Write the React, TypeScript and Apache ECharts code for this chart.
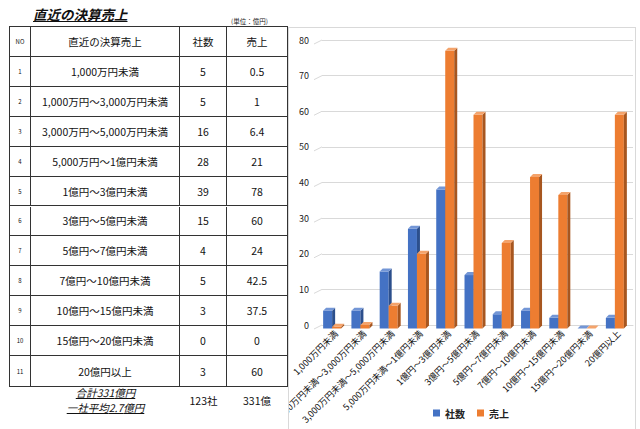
import React, { useEffect, useRef } from "react";
import * as echarts from "echarts";

// ---- data ----
const tableCategories = [
  "1,000万円未満",
  "1,000万円～3,000万円未満",
  "3,000万円～5,000万円未満",
  "5,000万円～1億円未満",
  "1億円～3億円未満",
  "3億円～5億円未満",
  "5億円～7億円未満",
  "7億円～10億円未満",
  "10億円～15億円未満",
  "15億円～20億円未満",
  "20億円以上",
];
const chartCategories = [
  "1,000万円未満",
  "1,000万円未満～3,000万円未満",
  "3,000万円未満～5,000万円未満",
  "5,000万円未満～1億円未満",
  "1億円～3億円未満",
  "3億円～5億円未満",
  "5億円～7億円未満",
  "7億円～10億円未満",
  "10億円～15億円未満",
  "15億円～20億円未満",
  "20億円以上",
];
const companies = [5, 5, 16, 28, 39, 15, 4, 5, 3, 0, 3];
const sales = [0.5, 1, 6.4, 21, 78, 60, 24, 42.5, 37.5, 0, 60];
const yTicks = [0, 10, 20, 30, 40, 50, 60, 70, 80];
const seriesNames = ["社数", "売上"];

const FONT = '"Noto Sans CJK JP", "Noto Sans", sans-serif';

const colW = [21, 149, 47, 60];
const rowH = 359 / 12;

function Table() {
  const header = ["NO", "直近の決算売上", "社数", "売上"];
  const rows = tableCategories.map((c, i) => [String(i + 1), c, String(companies[i]), String(sales[i])]);
  const all = [header, ...rows];
  const lefts = colW.map((_, i) => colW.slice(0, i).reduce((a, b) => a + b, 0));
  const cells: any[] = [];
  all.forEach((r, ri) => {
    r.forEach((txt, ci) => {
      cells.push(
        <div
          key={ri + "-" + ci}
          style={{
            position: "absolute",
            left: lefts[ci],
            top: ri * rowH,
            width: colW[ci],
            height: rowH,
            boxSizing: "border-box",
            borderRight: ci < 3 ? "1px solid #333" : "none",
            borderBottom: ri < 11 ? "1px solid #333" : "none",
            display: "flex",
            alignItems: "center",
            justifyContent: "center",
            fontSize: ci === 0 ? 6 : 10.5,
            color: "#111",
            whiteSpace: "nowrap",
          }}
        >
          {txt}
        </div>
      );
    });
  });
  return (
    <div
      style={{
        position: "absolute",
        left: 10,
        top: 27,
        width: 277,
        height: 359,
        boxSizing: "border-box",
        outline: "1px solid #333",
      }}
    >
      {cells}
    </div>
  );
}

export default function App() {
  const ref = useRef<HTMLDivElement>(null);

  useEffect(() => {
    if (!ref.current) return;
    const chart = echarts.init(ref.current, undefined, { renderer: "svg" });
    const styles = [
      { off: -13, front: "#4472C4", top: "#7396D6", side: "#2C4F8C" },
      { off: -4, front: "#ED7D31", top: "#F4A36B", side: "#A7561F" },
    ];
    const W = 9;
    const D = 3;
    const DY = 3.5;
    const makeBar = (idx: number) => (params: any, api: any) => {
      const s = styles[idx];
      const c = api.coord([api.value(0), api.value(1)]);
      const b = api.coord([api.value(0), 0]);
      const x0 = c[0] + s.off;
      const yt = c[1] + DY;
      const yb = b[1] + DY;
      return {
        type: "group",
        children: [
          {
            type: "rect",
            shape: { x: x0, y: yt, width: W, height: Math.max(0, yb - yt) },
            style: { fill: s.front },
          },
          {
            type: "polygon",
            shape: { points: [[x0 + W, yt], [x0 + W + D, yt - 3], [x0 + W + D, yb - 3], [x0 + W, yb]] },
            style: { fill: s.side },
          },
          {
            type: "polygon",
            shape: { points: [[x0, yt], [x0 + W, yt], [x0 + W + D, yt - 3], [x0 + D, yt - 3]] },
            style: { fill: s.top },
          },
        ],
      };
    };
    chart.setOption({
      animation: false,
      textStyle: { fontFamily: FONT },
      grid: { left: 34, right: 4, top: 13, bottom: 104, containLabel: false, outerBoundsMode: "none" },
      legend: {
        data: seriesNames,
        bottom: 6,
        left: 140,
        itemWidth: 7,
        itemHeight: 7,
        itemGap: 12,
        icon: "rect",
        textStyle: { fontSize: 10, color: "#222", fontWeight: "bold", fontFamily: FONT },
      },
      xAxis: {
        type: "category",
        data: chartCategories,
        boundaryGap: true,
        axisLine: { show: true, lineStyle: { color: "#d9d9d9" } },
        axisTick: { show: false },
        axisLabel: {
          rotate: 45,
          interval: 0,
          fontSize: 9,
          color: "#111",
          margin: 7,
          fontFamily: FONT,
          hideOverlap: false,
        },
      },
      yAxis: {
        type: "value",
        min: 0,
        max: 80,
        interval: 10,
        axisLine: { show: false },
        axisTick: { show: false },
        splitLine: { lineStyle: { color: "#d9d9d9", width: 1 } },
        axisLabel: { fontSize: 9, color: "#222", margin: 13, padding: [9, 0, 0, 0] },
      },
      series: [
        {
          type: "custom",
          name: "grid-slant",
          silent: true,
          clip: false,
          data: yTicks.map((v) => [0, v]),
          renderItem: (params: any, api: any) => {
            const p = api.coord([0, api.value(1)]);
            const gx = params.coordSys.x;
            return {
              type: "line",
              shape: { x1: gx - 8, y1: p[1] + 4, x2: gx, y2: p[1] },
              style: { stroke: "#d9d9d9", lineWidth: 1 },
            };
          },
        },
        {
          type: "custom",
          name: seriesNames[0],
          itemStyle: { color: "#4472C4" },
          clip: false,
          data: companies.map((v, i) => [i, v]),
          renderItem: makeBar(0),
        },
        {
          type: "custom",
          name: seriesNames[1],
          itemStyle: { color: "#ED7D31" },
          clip: false,
          data: sales.map((v, i) => [i, v]),
          renderItem: makeBar(1),
        },
      ],
    });
    return () => chart.dispose();
  }, []);

  const totalCompanies = companies.reduce((a, b) => a + b, 0);
  const totalSales = Math.round(sales.reduce((a, b) => a + b, 0));
  const avg = (totalSales / totalCompanies).toFixed(1);

  const noteStyle: any = {
    position: "absolute",
    left: 31,
    width: 149,
    textAlign: "center",
    fontSize: 10.5,
    lineHeight: "12px",
    fontStyle: "italic",
    textDecoration: "underline",
    color: "#111",
    whiteSpace: "nowrap",
  };

  return (
    <div
      style={{
        position: "fixed",
        left: 0,
        top: 0,
        width: 640,
        height: 429,
        background: "#fff",
        fontFamily: FONT,
        overflow: "hidden",
      }}
    >
      <div
        style={{
          position: "absolute",
          left: 33,
          top: 6,
          fontSize: 13.5,
          lineHeight: "16px",
          fontWeight: "bold",
          fontStyle: "italic",
          textDecoration: "underline",
          color: "#111",
          whiteSpace: "nowrap",
        }}
      >
        直近の決算売上
      </div>
      <div style={{ position: "absolute", left: 231, top: 17, fontSize: 6.5, lineHeight: "8px", color: "#222", whiteSpace: "nowrap" }}>
        (単位：億円)
      </div>
      <Table />
      <div style={{ ...noteStyle, top: 387 }}>合計{totalSales}億円</div>
      <div style={{ ...noteStyle, top: 402 }}>一社平均{avg}億円</div>
      <div style={{ position: "absolute", left: 180, width: 47, top: 394, textAlign: "center", fontSize: 10.5, lineHeight: "14px", color: "#111" }}>
        {totalCompanies}社
      </div>
      <div style={{ position: "absolute", left: 227, width: 60, top: 394, textAlign: "center", fontSize: 10.5, lineHeight: "14px", color: "#111" }}>
        {totalSales}億
      </div>
      <div ref={ref} style={{ position: "absolute", left: 288, top: 27, width: 349, height: 402 }} />
      <div
        style={{
          position: "absolute",
          left: 288,
          top: 27,
          width: 348,
          height: 410,
          boxSizing: "border-box",
          border: "1px solid #d9d9d9",
          pointerEvents: "none",
        }}
      />
    </div>
  );
}
